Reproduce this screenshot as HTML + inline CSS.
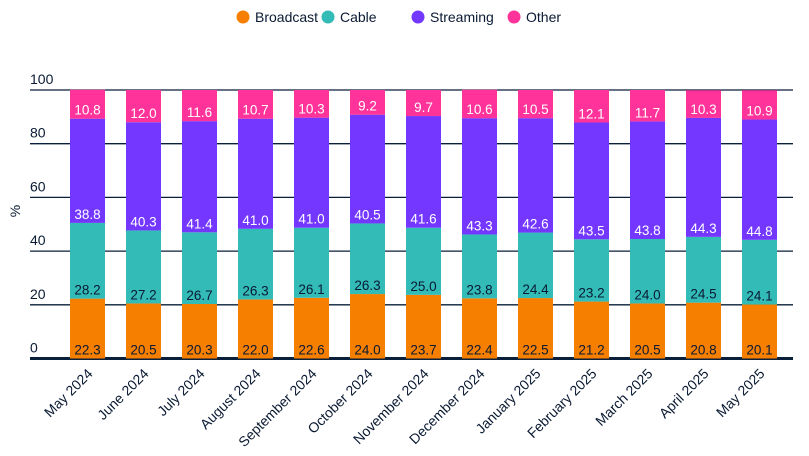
<!DOCTYPE html>
<html><head><meta charset="utf-8"><style>
body{margin:0;background:#fff;font-family:"Liberation Sans",sans-serif}
</style></head><body>
<svg id="c" width="809" height="451" xmlns="http://www.w3.org/2000/svg" style="font-family:'Liberation Sans',sans-serif"></svg>
<script>
const categories=["May 2024","June 2024","July 2024","August 2024","September 2024","October 2024","November 2024","December 2024","January 2025","February 2025","March 2025","April 2025","May 2025"];
const broadcast=[22.3,20.5,20.3,22.0,22.6,24.0,23.7,22.4,22.5,21.2,20.5,20.8,20.1];
const cable=[28.2,27.2,26.7,26.3,26.1,26.3,25.0,23.8,24.4,23.2,24.0,24.5,24.1];
const streaming=[38.8,40.3,41.4,41.0,41.0,40.5,41.6,43.3,42.6,43.5,43.8,44.3,44.8];
const other=[10.8,12.0,11.6,10.7,10.3,9.2,9.7,10.6,10.5,12.1,11.7,10.3,10.9];
const seriesNames=["Broadcast","Cable","Streaming","Other"];
const yTicks=[0,20,40,60,80,100];
const series=[broadcast,cable,streaming,other];
const colors=["#F77F00","#33BBB8","#7337FF","#FF3399"];
const textColors=["#0a1a33","#0a1a33","#fff","#fff"];
const NS="http://www.w3.org/2000/svg";
const svg=document.getElementById('c');
const y0=358.5,y100=90,x0=30,x1=793;
const yS=v=>y0-(y0-y100)*v/100;
const xS=i=>87.5+i*56;
const bw=35;
function mk(t,a,p){const e=document.createElementNS(NS,t);for(const k in a)e.setAttribute(k,a[k]);(p||svg).appendChild(e);return e;}
// legend
let lx=[237,322,412,508];
seriesNames.forEach((n,i)=>{
 const g=mk('g',{});
 
 
 mk('circle',{cx:lx[i]+6,cy:17,r:6.5,fill:colors[i]},g);
 const t=mk('text',{x:lx[i]+18,y:22,'font-size':14,fill:'#0a1a33'},g);t.textContent=n;
});
// grid & y ticks
yTicks.forEach(v=>{
 const l=mk('line',{x1:x0,x2:x1,y1:yS(v),y2:yS(v),stroke:'#0a1f3a','stroke-width':v===0?3:1.3});
 
 
 const t=mk('text',{x:x0,y:yS(v)-6,'font-size':14,fill:'#0a1a33'});
 
 
 t.textContent=v;
});
const yt=mk('text',{x:0,y:0,'font-size':14,fill:'#0a1a33',transform:'translate(20,211) rotate(-90)','text-anchor':'middle'});


yt.textContent='%';
// bars
categories.forEach((c,i)=>{
 let acc=0;
 series.forEach((s,k)=>{
  const v=s[i];
  const top=yS(acc+v),bot=yS(acc);
  const r=mk('rect',{x:xS(i)-bw/2,y:top,width:bw,height:bot-top,fill:colors[k]});
  
  
  const t=mk('text',{x:xS(i),y:bot-4,'font-size':13.5,fill:textColors[k],'text-anchor':'middle'});
  
  
  t.textContent=v.toFixed(1);
  acc+=v;
 });
 const xl=mk('text',{x:0,y:0,'font-size':14,fill:'#0a1a33','text-anchor':'end',transform:`translate(${xS(i)+6},${y0+16}) rotate(-45)`});
 
 
 xl.textContent=c;
});
</script>
</body></html>
